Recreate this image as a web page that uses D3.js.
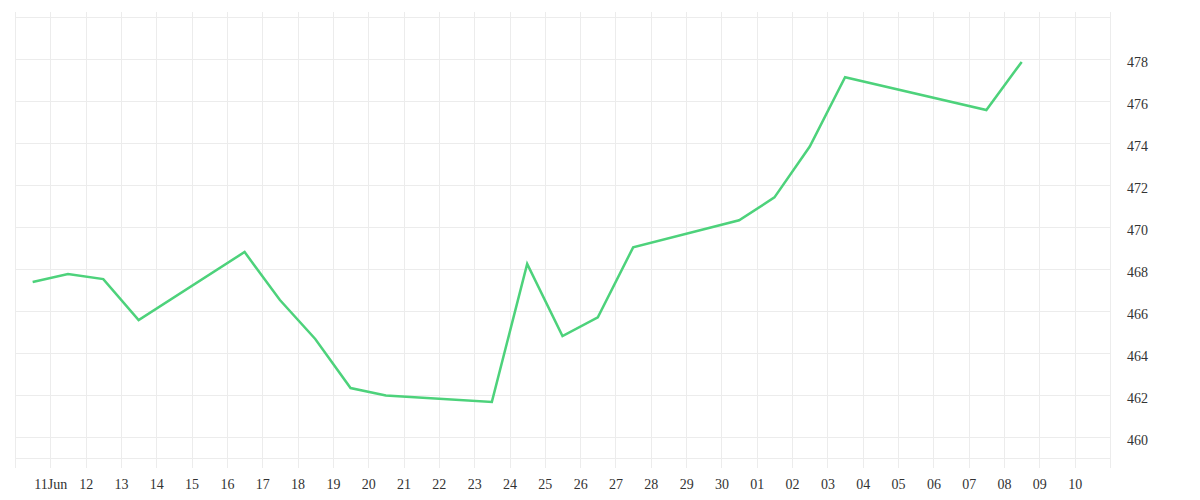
<!DOCTYPE html>
<html>
<head>
<meta charset="utf-8">
<script src="https://cdn.jsdelivr.net/npm/d3@7/dist/d3.min.js"></script>
<style>
  html, body { margin: 0; padding: 0; background: #ffffff; }
  svg { display: block; }
  .grid line { stroke: #ececec; stroke-width: 1; shape-rendering: crispEdges; }
  .grid text { font-family: "Liberation Serif", "Times New Roman", serif; font-size: 14px; fill: #333; }
</style>
</head>
<body>
<svg id="chart" width="1200" height="500"></svg>
<script>
// ---- data ----
const dates = ["2025-06-10","2025-06-11","2025-06-12","2025-06-13","2025-06-16","2025-06-17",
  "2025-06-18","2025-06-19","2025-06-20","2025-06-23","2025-06-24","2025-06-25","2025-06-26",
  "2025-06-27","2025-06-30","2025-07-01","2025-07-02","2025-07-03","2025-07-07","2025-07-08"];
const values = [467.38, 467.76, 467.52, 465.57, 468.81, 466.52, 464.67, 462.33, 461.98, 461.67,
  468.24, 464.81, 465.70, 469.03, 470.32, 471.41, 473.83, 477.13, 475.57, 477.86];
const yTicks = [460, 462, 464, 466, 468, 470, 472, 474, 476, 478];
const xStart = "2025-06-10", xEnd = "2025-07-11";

// ---- layout ----
const plotLeft = 15, plotRight = 1110, plotTop = 17, plotBottom = 458;
const gridTop = 12, gridBottom = 468;

const parse = d3.timeParse("%Y-%m-%d");
const data = dates.map((d, i) => ({ t: d3.timeHour.offset(parse(d), 12), v: values[i] }));

const x = d3.scaleTime().domain([parse(xStart), parse(xEnd)]).range([plotLeft, plotRight]);
const y = d3.scaleLinear().domain([459, 480]).range([plotBottom, plotTop]);

const svg = d3.select("#chart");

// vertical grid + x labels
const days = d3.timeDay.range(parse(xStart), d3.timeDay.offset(parse(xEnd), 1));
const first = d3.timeDay.offset(parse(xStart), 1), last = d3.timeDay.offset(parse(xEnd), -1);
const xAxis = d3.axisBottom(x)
  .tickValues(days)
  .tickSize(-(gridBottom - gridTop))
  .tickPadding(11)
  .tickFormat(d => {
    if (d < first || d > last) return "";
    if (+d === +first) return d3.timeFormat("%d%b")(d);
    return d3.timeFormat("%d")(d);
  });
svg.append("g").attr("class", "grid")
  .attr("transform", `translate(0,${gridBottom})`)
  .call(xAxis)
  .call(g => g.select(".domain").remove());

// horizontal grid + y labels
const yGrid = [459].concat(yTicks).concat([480]);
const yAxis = d3.axisRight(y)
  .tickValues(yGrid)
  .tickSize(-(plotRight - plotLeft))
  .tickPadding(17)
  .tickFormat(d => yTicks.includes(d) ? d3.format("d")(d) : "");
svg.append("g").attr("class", "grid")
  .attr("transform", `translate(${plotRight},0)`)
  .call(yAxis)
  .call(g => g.select(".domain").remove())
  .call(g => g.selectAll("text").attr("dy", "0.5em"));

// line
const line = d3.line().x(d => x(d.t)).y(d => y(d.v));
svg.append("path")
  .datum(data)
  .attr("fill", "none")
  .attr("stroke", "#4dd27b")
  .attr("stroke-width", 2.5)
  .attr("stroke-linejoin", "miter")
  .attr("d", line);
</script>
</body>
</html>
